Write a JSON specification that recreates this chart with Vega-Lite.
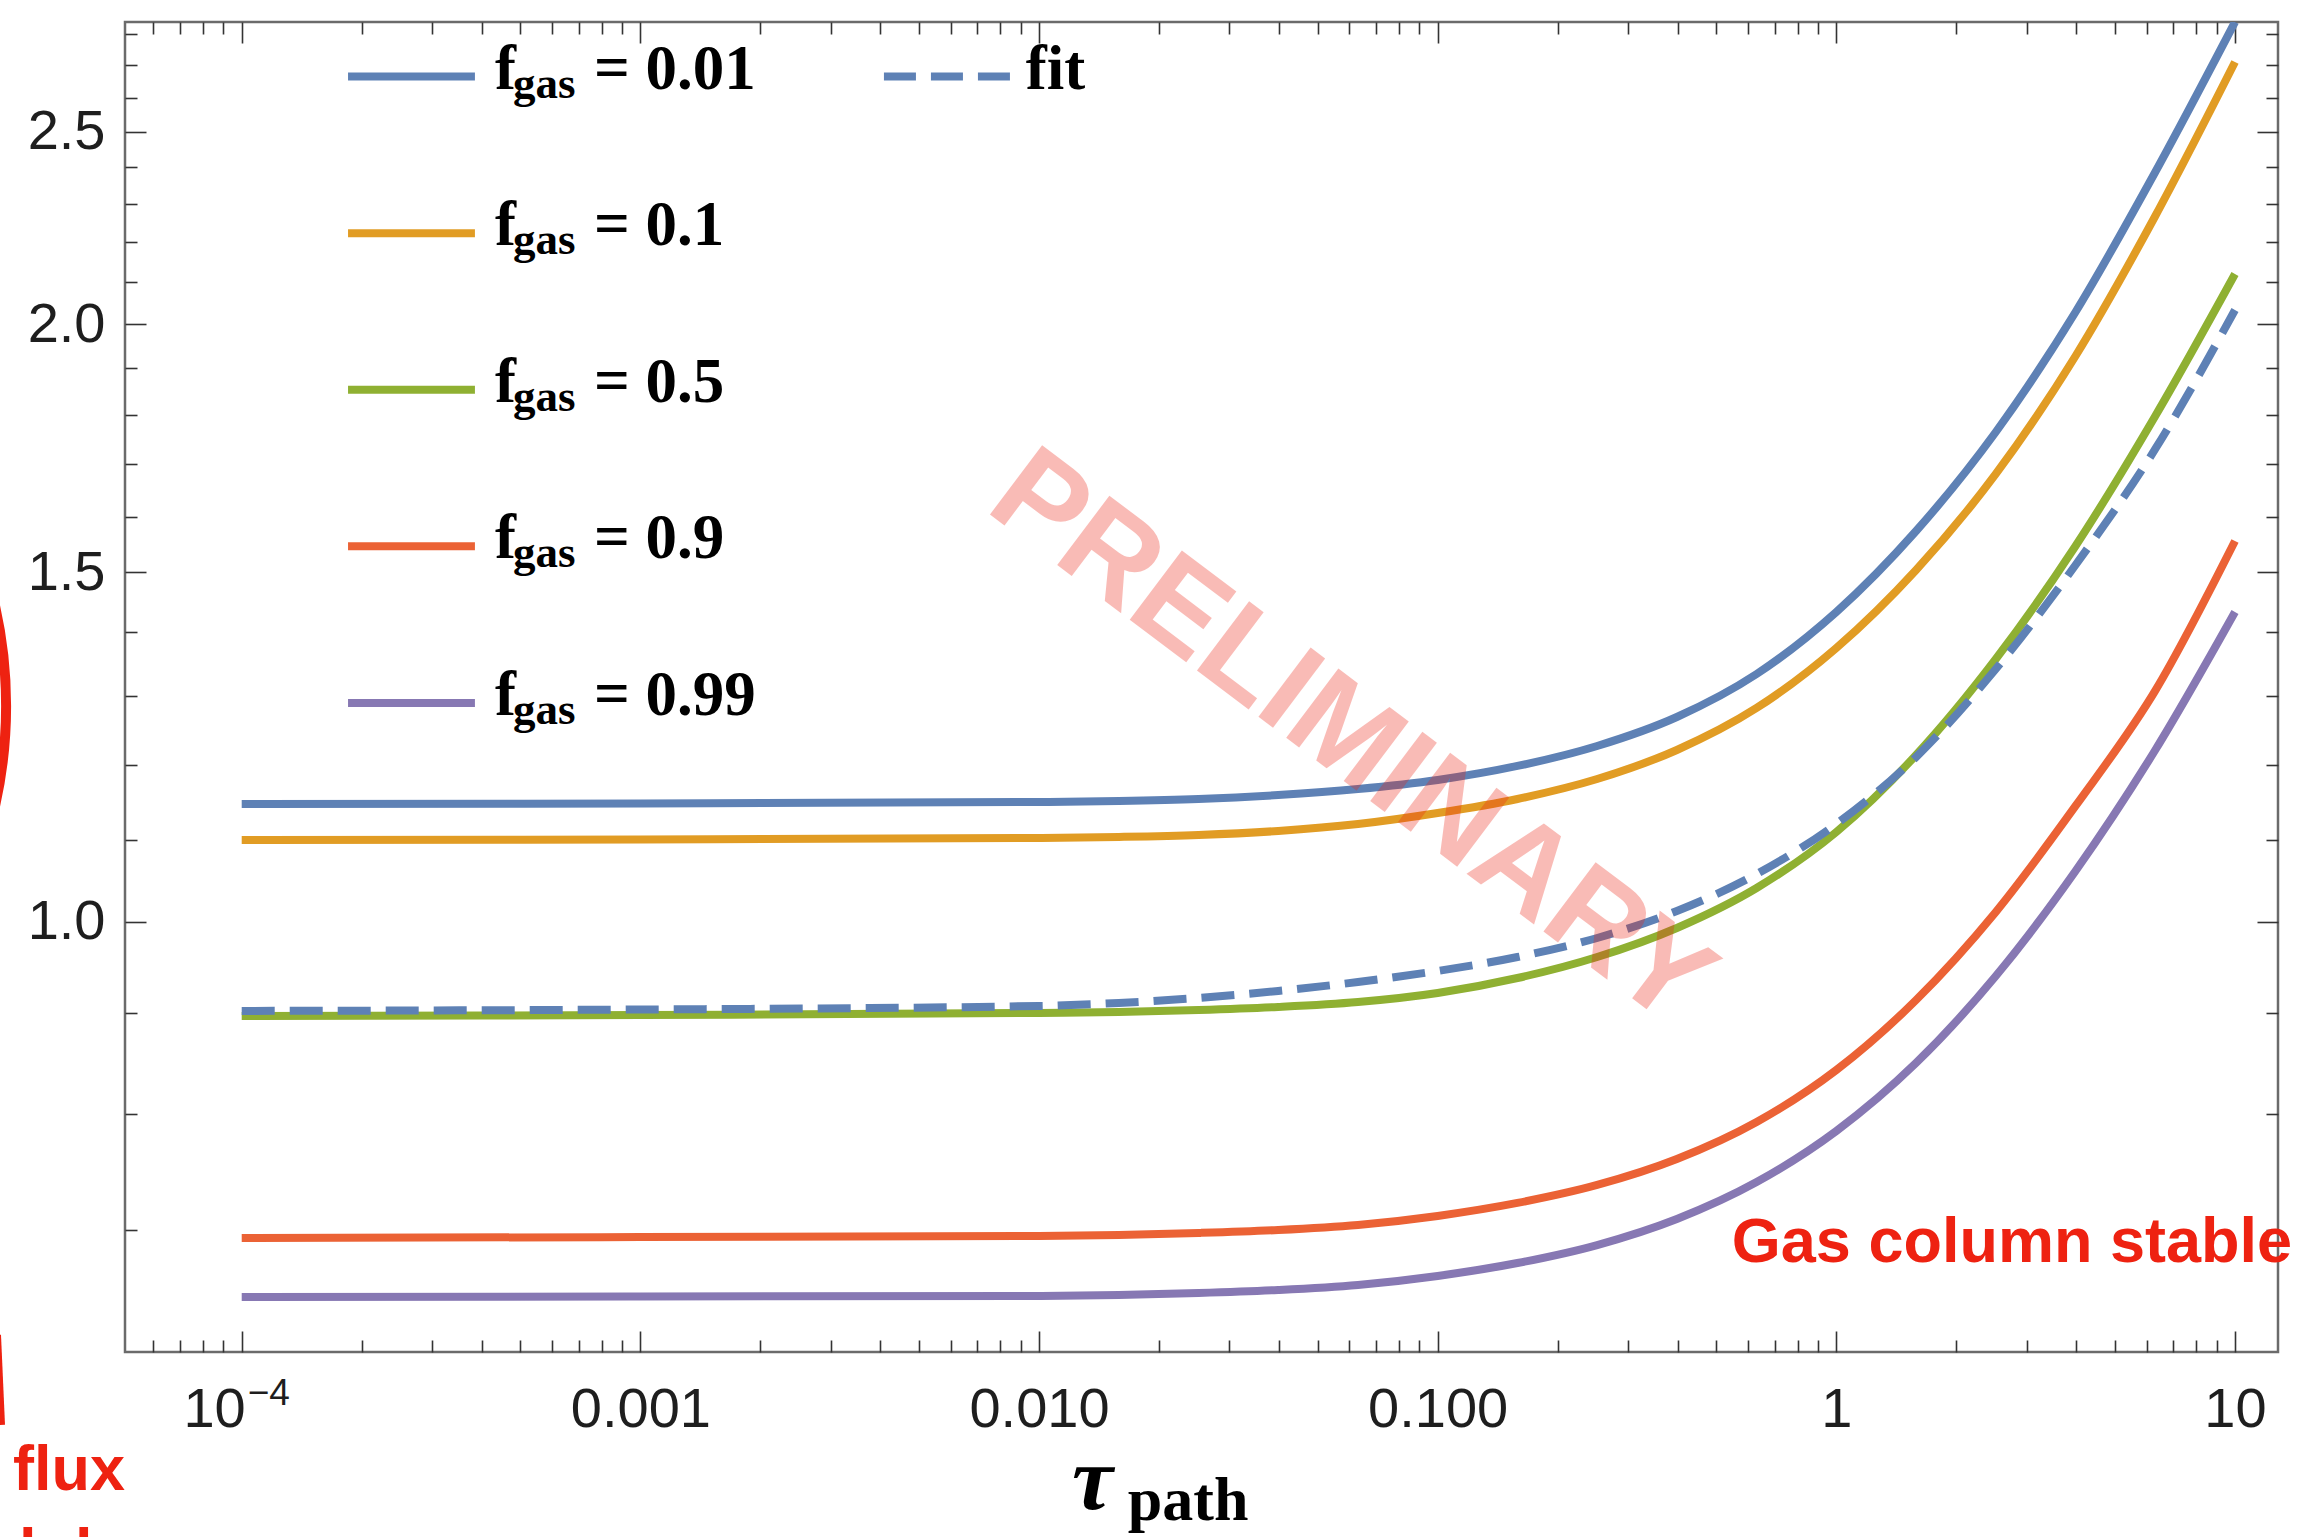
{
  "$schema": "https://vega.github.io/schema/vega-lite/v6.json",
  "width": 2153,
  "height": 1330,
  "autosize": {"type": "none"},
  "padding": {"left": 125, "top": 22, "right": 31, "bottom": 185},
  "background": "white",
  "config": {
    "view": {"stroke": "#6b6b6b", "strokeWidth": 2.5},
    "axis": {"domain": false, "grid": false, "tickColor": "#333333", "tickWidth": 1.6, "labelFont": "Liberation Sans", "labelFontSize": 56, "labelColor": "#1e1e1e", "labelFlush": false, "labelOverlap": false, "labelBound": false}
  },
  "datasets": {
    "curves": [
      {"series": "0.01", "tau": 0.0001, "value": 1.1466}, {"series": "0.01", "tau": 0.001, "value": 1.1473}, {"series": "0.01", "tau": 0.01, "value": 1.1493}, {"series": "0.01", "tau": 0.01585, "value": 1.1506}, {"series": "0.01", "tau": 0.02512, "value": 1.1533}, {"series": "0.01", "tau": 0.03981, "value": 1.1586}, {"series": "0.01", "tau": 0.0631, "value": 1.1667}, {"series": "0.01", "tau": 0.1, "value": 1.179}, {"series": "0.01", "tau": 0.1585, "value": 1.1983}, {"series": "0.01", "tau": 0.2512, "value": 1.2264}, {"series": "0.01", "tau": 0.3981, "value": 1.2683}, {"series": "0.01", "tau": 0.631, "value": 1.3331}, {"series": "0.01", "tau": 1, "value": 1.4325}, {"series": "0.01", "tau": 1.585, "value": 1.5735}, {"series": "0.01", "tau": 2.512, "value": 1.7649}, {"series": "0.01", "tau": 3.981, "value": 2.0284}, {"series": "0.01", "tau": 6.31, "value": 2.3859}, {"series": "0.01", "tau": 10, "value": 2.8391},
      {"series": "0.1", "tau": 0.0001, "value": 1.0997}, {"series": "0.1", "tau": 0.001, "value": 1.1004}, {"series": "0.1", "tau": 0.01, "value": 1.1023}, {"series": "0.1", "tau": 0.01585, "value": 1.1036}, {"series": "0.1", "tau": 0.02512, "value": 1.1061}, {"series": "0.1", "tau": 0.03981, "value": 1.1113}, {"series": "0.1", "tau": 0.0631, "value": 1.1203}, {"series": "0.1", "tau": 0.1, "value": 1.1347}, {"series": "0.1", "tau": 0.1585, "value": 1.1533}, {"series": "0.1", "tau": 0.2512, "value": 1.1803}, {"series": "0.1", "tau": 0.3981, "value": 1.2207}, {"series": "0.1", "tau": 0.631, "value": 1.2816}, {"series": "0.1", "tau": 1, "value": 1.3739}, {"series": "0.1", "tau": 1.585, "value": 1.504}, {"series": "0.1", "tau": 2.512, "value": 1.6811}, {"series": "0.1", "tau": 3.981, "value": 1.9275}, {"series": "0.1", "tau": 6.31, "value": 2.2672}, {"series": "0.1", "tau": 10, "value": 2.7104},
      {"series": "0.5", "tau": 0.0001, "value": 0.8967}, {"series": "0.5", "tau": 0.001, "value": 0.8978}, {"series": "0.5", "tau": 0.01, "value": 0.8999}, {"series": "0.5", "tau": 0.01585, "value": 0.9009}, {"series": "0.5", "tau": 0.02512, "value": 0.903}, {"series": "0.5", "tau": 0.03981, "value": 0.9062}, {"series": "0.5", "tau": 0.0631, "value": 0.9114}, {"series": "0.5", "tau": 0.1, "value": 0.921}, {"series": "0.5", "tau": 0.1585, "value": 0.9371}, {"series": "0.5", "tau": 0.2512, "value": 0.9602}, {"series": "0.5", "tau": 0.3981, "value": 0.9931}, {"series": "0.5", "tau": 0.631, "value": 1.0402}, {"series": "0.5", "tau": 1, "value": 1.11}, {"series": "0.5", "tau": 1.585, "value": 1.2136}, {"series": "0.5", "tau": 2.512, "value": 1.3565}, {"series": "0.5", "tau": 3.981, "value": 1.5464}, {"series": "0.5", "tau": 6.31, "value": 1.798}, {"series": "0.5", "tau": 10, "value": 2.1198},
      {"series": "0.9", "tau": 0.0001, "value": 0.6932}, {"series": "0.9", "tau": 0.001, "value": 0.694}, {"series": "0.9", "tau": 0.01, "value": 0.6949}, {"series": "0.9", "tau": 0.01585, "value": 0.6957}, {"series": "0.9", "tau": 0.02512, "value": 0.6973}, {"series": "0.9", "tau": 0.03981, "value": 0.6997}, {"series": "0.9", "tau": 0.0631, "value": 0.7038}, {"series": "0.9", "tau": 0.1, "value": 0.7112}, {"series": "0.9", "tau": 0.1585, "value": 0.722}, {"series": "0.9", "tau": 0.2512, "value": 0.7372}, {"series": "0.9", "tau": 0.3981, "value": 0.7597}, {"series": "0.9", "tau": 0.631, "value": 0.793}, {"series": "0.9", "tau": 1, "value": 0.8423}, {"series": "0.9", "tau": 1.585, "value": 0.9135}, {"series": "0.9", "tau": 2.512, "value": 1.0117}, {"series": "0.9", "tau": 3.981, "value": 1.144}, {"series": "0.9", "tau": 6.31, "value": 1.3077}, {"series": "0.9", "tau": 10, "value": 1.5554},
      {"series": "0.99", "tau": 0.0001, "value": 0.6474}, {"series": "0.99", "tau": 0.001, "value": 0.6478}, {"series": "0.99", "tau": 0.01, "value": 0.6482}, {"series": "0.99", "tau": 0.01585, "value": 0.6489}, {"series": "0.99", "tau": 0.02512, "value": 0.6504}, {"series": "0.99", "tau": 0.03981, "value": 0.6527}, {"series": "0.99", "tau": 0.0631, "value": 0.6565}, {"series": "0.99", "tau": 0.1, "value": 0.6634}, {"series": "0.99", "tau": 0.1585, "value": 0.6734}, {"series": "0.99", "tau": 0.2512, "value": 0.6876}, {"series": "0.99", "tau": 0.3981, "value": 0.7087}, {"series": "0.99", "tau": 0.631, "value": 0.7397}, {"series": "0.99", "tau": 1, "value": 0.7848}, {"series": "0.99", "tau": 1.585, "value": 0.8492}, {"series": "0.99", "tau": 2.512, "value": 0.9393}, {"series": "0.99", "tau": 3.981, "value": 1.0609}, {"series": "0.99", "tau": 6.31, "value": 1.2207}, {"series": "0.99", "tau": 10, "value": 1.4325}
    ],
    "fit": [
      {"tau": 0.0001, "value": 0.902}, {"tau": 0.001, "value": 0.9035}, {"tau": 0.01, "value": 0.9072}, {"tau": 0.01585, "value": 0.9104}, {"tau": 0.02512, "value": 0.9157}, {"tau": 0.03981, "value": 0.9231}, {"tau": 0.0631, "value": 0.9328}, {"tau": 0.1, "value": 0.9448}, {"tau": 0.1585, "value": 0.9602}, {"tau": 0.2512, "value": 0.9816}, {"tau": 0.3981, "value": 1.0128}, {"tau": 0.631, "value": 1.0572}, {"tau": 1, "value": 1.1203}, {"tau": 1.585, "value": 1.2108}, {"tau": 2.512, "value": 1.3409}, {"tau": 3.981, "value": 1.5127}, {"tau": 6.31, "value": 1.7305}, {"tau": 10, "value": 2.0331}
    ],
    "legend": [
      {"series": "0.01", "label": "= 0.01"},
      {"series": "0.1", "label": "= 0.1"},
      {"series": "0.5", "label": "= 0.5"},
      {"series": "0.9", "label": "= 0.9"},
      {"series": "0.99", "label": "= 0.99"}
    ],
    "fitlegend": [
      {"series": "0.01", "label": "fit"}
    ]
  },
  "layer": [
    {
      "layer": [
        {
          "data": {"name": "curves"},
          "mark": {"type": "line", "strokeWidth": 8, "interpolate": "monotone", "clip": true},
          "encoding": {
            "x": {"field": "tau", "type": "quantitative",
              "scale": {"type": "log", "domain": [0.00005096, 12.82], "nice": false},
              "axis": {"orient": "bottom", "title": null, "values": [0.0001, 0.001, 0.01, 0.1, 1, 10], "tickSize": -21, "labelPadding": 51,
                "labelExpr": "datum.value == 0.0001 ? '' : datum.value == 0.001 ? '0.001' : datum.value == 0.01 ? '0.010' : datum.value == 0.1 ? '0.100' : datum.value == 1 ? '1' : '10'"}},
            "y": {"field": "value", "type": "quantitative",
              "scale": {"type": "log", "domain": [0.6074, 2.839], "nice": false},
              "axis": {"orient": "left", "title": null, "values": [1, 1.5, 2, 2.5], "format": ".1f", "tickSize": -21, "labelPadding": 41}},
            "color": {"field": "series", "type": "nominal",
              "scale": {"domain": ["0.01", "0.1", "0.5", "0.9", "0.99"], "range": ["#5E81B5", "#E19C24", "#8FB032", "#EB6235", "#8778B3"]},
              "legend": null}
          }
        },
        {
          "data": {"name": "fit"},
          "mark": {"type": "line", "strokeWidth": 8, "interpolate": "monotone", "strokeDash": [33, 15], "color": "#5E81B5", "clip": true},
          "encoding": {
            "x": {"field": "tau", "type": "quantitative",
              "axis": {"orient": "bottom", "title": null, "labels": false, "tickSize": -12,
                "values": [0.00006, 0.00007, 0.00008, 0.00009, 0.0002, 0.0003, 0.0004, 0.0005, 0.0006, 0.0007, 0.0008, 0.0009, 0.002, 0.003, 0.004, 0.005, 0.006, 0.007, 0.008, 0.009, 0.02, 0.03, 0.04, 0.05, 0.06, 0.07, 0.08, 0.09, 0.2, 0.3, 0.4, 0.5, 0.6, 0.7, 0.8, 0.9, 2, 3, 4, 5, 6, 7, 8, 9]}},
            "y": {"field": "value", "type": "quantitative",
              "axis": {"orient": "left", "title": null, "labels": false, "tickSize": -12,
                "values": [0.7, 0.8, 0.9, 1.1, 1.2, 1.3, 1.4, 1.6, 1.7, 1.8, 1.9, 2.1, 2.2, 2.3, 2.4, 2.6, 2.7, 2.8]}}
          }
        },
        {
          "data": {"values": [{"label": "PRELIMINARY"}]},
          "mark": {"type": "text", "font": "Liberation Sans", "fontWeight": "bold", "fontSize": 126, "angle": 37, "align": "center", "baseline": "middle", "color": "#EE2211", "opacity": 0.3},
          "encoding": {
            "text": {"field": "label"},
            "x": {"datum": 0.06057, "type": "quantitative",
              "axis": {"orient": "top", "title": null, "labels": false, "tickSize": -21, "values": [0.0001, 0.001, 0.01, 0.1, 1, 10]}},
            "y": {"datum": 1.2364, "type": "quantitative",
              "axis": {"orient": "right", "title": null, "labels": false, "tickSize": -21, "values": [1, 1.5, 2, 2.5]}}
          }
        },
        {
          "data": {"values": [{"label": "Gas column stable"}]},
          "mark": {"type": "text", "font": "Liberation Sans", "fontWeight": "bold", "fontSize": 63, "align": "left", "baseline": "alphabetic", "color": "#EE2211"},
          "encoding": {
            "text": {"field": "label"},
            "x": {"datum": 0.5468, "type": "quantitative",
              "axis": {"orient": "top", "title": null, "labels": false, "tickSize": -12,
                "values": [0.00006, 0.00007, 0.00008, 0.00009, 0.0002, 0.0003, 0.0004, 0.0005, 0.0006, 0.0007, 0.0008, 0.0009, 0.002, 0.003, 0.004, 0.005, 0.006, 0.007, 0.008, 0.009, 0.02, 0.03, 0.04, 0.05, 0.06, 0.07, 0.08, 0.09, 0.2, 0.3, 0.4, 0.5, 0.6, 0.7, 0.8, 0.9, 2, 3, 4, 5, 6, 7, 8, 9]}},
            "y": {"datum": 0.6742, "type": "quantitative",
              "axis": {"orient": "right", "title": null, "labels": false, "tickSize": -12,
                "values": [0.7, 0.8, 0.9, 1.1, 1.2, 1.3, 1.4, 1.6, 1.7, 1.8, 1.9, 2.1, 2.2, 2.3, 2.4, 2.6, 2.7, 2.8]}}
          }
        },
        {
          "data": {"values": [{"label": "10"}]},
          "mark": {"type": "text", "font": "Liberation Sans", "fontSize": 56, "align": "right", "baseline": "alphabetic", "dx": 4, "color": "#1e1e1e"},
          "encoding": {
            "text": {"field": "label"},
            "x": {"datum": 0.0001, "type": "quantitative", "axis": null},
            "y": {"datum": 0.5568, "type": "quantitative", "axis": null}
          }
        },
        {
          "data": {"values": [{"label": "−4"}]},
          "mark": {"type": "text", "font": "Liberation Sans", "fontSize": 37, "align": "left", "baseline": "alphabetic", "dx": 6, "dy": -22, "color": "#1e1e1e"},
          "encoding": {
            "text": {"field": "label"},
            "x": {"datum": 0.0001, "type": "quantitative", "axis": null},
            "y": {"datum": 0.5568, "type": "quantitative", "axis": null}
          }
        },
        {
          "data": {"values": [{"label": "flux"}]},
          "mark": {"type": "text", "font": "Liberation Sans", "fontWeight": "bold", "fontSize": 63, "align": "left", "baseline": "alphabetic", "color": "#EE2211"},
          "encoding": {
            "text": {"field": "label"},
            "x": {"datum": 0.00002669, "type": "quantitative", "axis": null},
            "y": {"datum": 0.5176, "type": "quantitative", "axis": null}
          }
        },
        {
          "data": {"values": [{"label": "dplane"}]},
          "mark": {"type": "text", "font": "Liberation Sans", "fontWeight": "bold", "fontSize": 63, "align": "left", "baseline": "alphabetic", "color": "#EE2211"},
          "encoding": {
            "text": {"field": "label"},
            "x": {"datum": 0.00002447, "type": "quantitative", "axis": null},
            "y": {"datum": 0.4701, "type": "quantitative", "axis": null}
          }
        },
        {
          "data": {"values": [{"label": "ring"}]},
          "mark": {"type": "point", "shape": "circle", "size": 828100, "filled": false, "stroke": "#EE2211", "strokeWidth": 10, "opacity": 1},
          "encoding": {
            "x": {"datum": 0.000001852, "type": "quantitative", "axis": null},
            "y": {"datum": 1.2846, "type": "quantitative", "axis": null}
          }
        },
        {
          "data": {"values": [{"label": "stroke"}]},
          "mark": {"type": "rule", "stroke": "#EE2211", "strokeWidth": 8},
          "encoding": {
            "x": {"datum": 0.00002433, "type": "quantitative", "axis": null},
            "x2": {"datum": 0.0000249},
            "y": {"datum": 0.6195, "type": "quantitative", "axis": null},
            "y2": {"datum": 0.5581}
          }
        },
        {
          "data": {"values": [{"label": "τ"}]},
          "mark": {"type": "text", "font": "Liberation Serif", "fontWeight": "bold", "fontStyle": "italic", "fontSize": 92, "align": "left", "baseline": "alphabetic", "color": "black"},
          "encoding": {
            "text": {"field": "label"},
            "x": {"datum": 0.01209, "type": "quantitative", "axis": null},
            "y": {"datum": 0.5063, "type": "quantitative", "axis": null}
          }
        },
        {
          "data": {"values": [{"label": "path"}]},
          "mark": {"type": "text", "font": "Liberation Serif", "fontWeight": "bold", "fontSize": 62, "align": "left", "baseline": "alphabetic", "color": "black"},
          "encoding": {
            "text": {"field": "label"},
            "x": {"datum": 0.0167, "type": "quantitative", "axis": null},
            "y": {"datum": 0.4999, "type": "quantitative", "axis": null}
          }
        }
      ],
      "resolve": {"axis": {"x": "independent", "y": "independent"}}
    },
    {
      "encoding": {
        "y": {"field": "series", "type": "ordinal",
          "scale": {"type": "point", "domain": ["0.01", "0.1", "0.5", "0.9", "0.99"], "range": [54.6, 680.9], "padding": 0},
          "axis": null}
      },
      "layer": [
        {
          "data": {"name": "legend"},
          "mark": {"type": "rule", "strokeWidth": 8},
          "encoding": {
            "x": {"datum": 0.0001848, "type": "quantitative", "axis": null},
            "x2": {"datum": 0.0003846},
            "color": {"field": "series", "type": "nominal", "legend": null}
          }
        },
        {
          "data": {"name": "legend"},
          "mark": {"type": "text", "text": "f", "font": "Liberation Serif", "fontWeight": "bold", "fontSize": 63, "align": "left", "baseline": "alphabetic", "dy": 12, "color": "black"},
          "encoding": {
            "x": {"datum": 0.0004317, "type": "quantitative", "axis": null}
          }
        },
        {
          "data": {"name": "legend"},
          "mark": {"type": "text", "text": "gas", "font": "Liberation Serif", "fontWeight": "bold", "fontSize": 45, "align": "left", "baseline": "alphabetic", "dy": 21, "color": "black"},
          "encoding": {
            "x": {"datum": 0.000479, "type": "quantitative", "axis": null}
          }
        },
        {
          "data": {"name": "legend"},
          "mark": {"type": "text", "font": "Liberation Serif", "fontWeight": "bold", "fontSize": 63, "align": "left", "baseline": "alphabetic", "dy": 12, "color": "black"},
          "encoding": {
            "text": {"field": "label"},
            "x": {"datum": 0.0007646, "type": "quantitative", "axis": null}
          }
        },
        {
          "data": {"name": "fitlegend"},
          "mark": {"type": "rule", "strokeWidth": 8, "strokeDash": [32, 15], "color": "#5E81B5"},
          "encoding": {
            "x": {"datum": 0.004083, "type": "quantitative", "axis": null},
            "x2": {"datum": 0.008603}
          }
        },
        {
          "data": {"name": "fitlegend"},
          "mark": {"type": "text", "font": "Liberation Serif", "fontWeight": "bold", "fontSize": 63, "align": "left", "baseline": "alphabetic", "dy": 12, "color": "black"},
          "encoding": {
            "text": {"field": "label"},
            "x": {"datum": 0.009266, "type": "quantitative", "axis": null}
          }
        }
      ]
    }
  ],
  "resolve": {"scale": {"y": "independent"}}
}
